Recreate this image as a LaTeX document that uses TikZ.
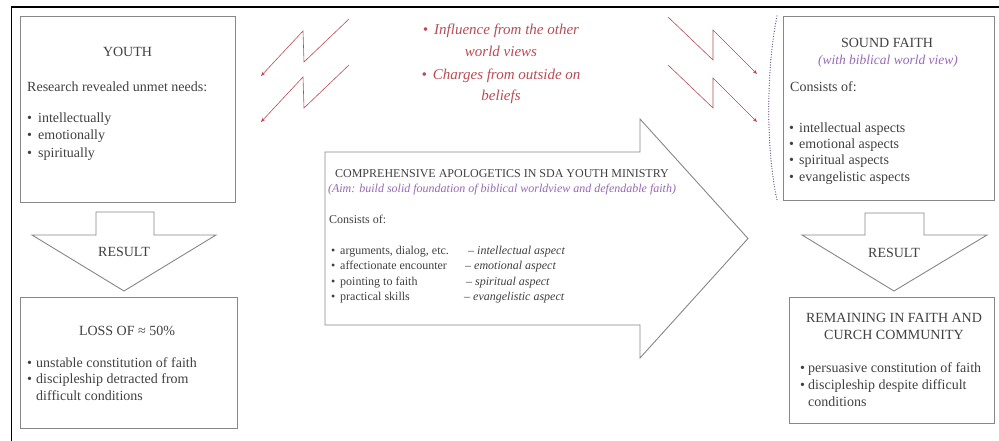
\documentclass[tikz,border=0pt]{standalone}
\usepackage{fontspec}
\setmainfont{Liberation Serif}
\usetikzlibrary{arrows.meta}
\definecolor{txt}{RGB}{64,64,64}
\definecolor{boxline}{RGB}{135,135,135}
\definecolor{redc}{RGB}{185,75,85}
\definecolor{purp}{RGB}{150,105,180}
\definecolor{dotc}{RGB}{105,75,140}
\begin{document}
\begin{tikzpicture}[x=1pt,y=-1pt,
  box/.style={draw=boxline, line width=0.9pt, inner sep=0pt, anchor=north west},
  blockarrow/.style={draw=boxline, line width=0.9pt, fill=white},
  ln/.style={anchor=base west, inner sep=0pt, text=txt, font=\fontsize{14}{16}\selectfont},
  lnc/.style={anchor=base, inner sep=0pt, text=txt, font=\fontsize{14}{16}\selectfont},
  sm/.style={anchor=base west, inner sep=0pt, text=txt, font=\fontsize{12}{14}\selectfont},
  smc/.style={anchor=base, inner sep=0pt, text=txt, font=\fontsize{12}{14}\selectfont},
  redtxt/.style={anchor=base, inner sep=0pt, text=redc, font=\fontsize{15}{17}\selectfont\itshape},
  zig/.style={draw=redc, line width=0.6pt, -{Stealth[length=4.5pt,width=3.5pt]}},
]
\useasboundingbox (0,0) rectangle (999,441);
% outer frame
\draw[line width=1.6pt] (11.5,441) -- (11.5,7) -- (999,7);

% ---- YOUTH box
\node[box, minimum width=215pt, minimum height=186pt] (youth) at (20,16) {};
\node[lnc] (youthT) at (127.5,57) {YOUTH};
\node[ln] (youthR) at (27,91.5) {Research revealed unmet needs:};
\node[ln] (youthB1) at (27,122.5) {\makebox[11pt][l]{•}intellectually};
\node[ln] (youthB2) at (27,139.5) {\makebox[11pt][l]{•}emotionally};
\node[ln] (youthB3) at (27,157.5) {\makebox[11pt][l]{•}spiritually};

% ---- left down arrow
\draw[blockarrow] (96,212) -- (154,212) -- (154,235) -- (216,235) -- (124,291)
  -- (32,235) -- (96,235) -- cycle;
\node[lnc] (resL) at (124,256) {RESULT};

% ---- LOSS box
\node[box, minimum width=217pt, minimum height=131pt] (loss) at (20,297) {};
\node[lnc] (lossT) at (127,335) {LOSS OF ≈ 50\%};
\node[ln] (lossB1) at (27,367.5) {\makebox[9pt][l]{•}unstable constitution of faith};
\node[ln] (lossB2) at (27,383.5) {\makebox[9pt][l]{•}discipleship detracted from};
\node[ln] (lossB3) at (36,400.5) {difficult conditions};

% ---- red zigzag arrows (left)
\draw[zig] (349,19) -- (304,62) -- (303,31) -- (261,76);
\draw[zig] (349,65) -- (304,108) -- (303,77) -- (261,122);
% ---- red zigzag arrows (right)
\draw[zig] (668,17) -- (713,60) -- (713,30) -- (757,74);
\draw[zig] (668,65) -- (713,108) -- (713,78) -- (757,122);

% ---- red text
\node[redtxt] (red1) at (501,35) {•\hspace{6pt}Influence from the other};
\node[redtxt] (red2) at (501,57) {world views};
\node[redtxt] (red3) at (501,80) {•\hspace{6pt}Charges from outside on};
\node[redtxt] (red4) at (501,101) {beliefs};

% ---- central block arrow
\draw[blockarrow] (325,152) -- (640,152) -- (640,119) -- (748,238.5) -- (640,358)
  -- (640,325) -- (325,325) -- cycle;
\node[smc] (cTitle) at (502,178) {COMPREHENSIVE APOLOGETICS IN SDA YOUTH MINISTRY};
\node[smc, text=purp, font=\fontsize{12}{14}\selectfont\itshape] (cAim) at (502,193)
  {(Aim: build solid foundation of biblical worldview and defendable faith)};
\node[sm] (cCons) at (329,223) {Consists of:};
\node[sm] (cB1) at (331,254) {\makebox[9pt][l]{•}arguments, dialog, etc.};
\node[sm] (cB2) at (331,269) {\makebox[9pt][l]{•}affectionate encounter};
\node[sm] (cB3) at (331,285) {\makebox[9pt][l]{•}pointing to faith};
\node[sm] (cB4) at (331,300) {\makebox[9pt][l]{•}practical skills};
\node[sm] (cD1) at (468,254) {– \textit{intellectual aspect}};
\node[sm] (cD2) at (465,269) {– \textit{emotional aspect}};
\node[sm] (cD3) at (466,285) {– \textit{spiritual aspect}};
\node[sm] (cD4) at (464,300) {– \textit{evangelistic aspect}};

% ---- dotted purple arc
\draw[dotc, line width=1.3pt, line cap=round, dash pattern=on 0pt off 2.6pt]
  (777,16) .. controls (766,70) and (766,150) .. (777,200);

% ---- SOUND FAITH box
\node[box, minimum width=211pt, minimum height=184pt] (sound) at (783,16) {};
\node[lnc] (soundT) at (887,48) {SOUND FAITH};
\node[lnc, text=purp, font=\fontsize{13.5}{16}\selectfont\itshape] (soundS) at (888,65)
  {(with biblical world view)};
\node[ln] (soundC) at (790,92) {Consists of:};
\node[ln] (soundB1) at (789,132.5) {\makebox[10pt][l]{•}intellectual aspects};
\node[ln] (soundB2) at (789,148.5) {\makebox[10pt][l]{•}emotional aspects};
\node[ln] (soundB3) at (789,164.5) {\makebox[10pt][l]{•}spiritual aspects};
\node[ln] (soundB4) at (789,181.5) {\makebox[10pt][l]{•}evangelistic aspects};

% ---- right down arrow
\draw[blockarrow] (865,213) -- (924,213) -- (924,235) -- (987,235) -- (894,291)
  -- (802,235) -- (865,235) -- cycle;
\node[lnc] (resR) at (894,257.5) {RESULT};

% ---- REMAINING box
\node[box, minimum width=205pt, minimum height=126pt] (remain) at (789,297) {};
\node[lnc] (remT1) at (894,322.5) {REMAINING IN FAITH AND};
\node[lnc] (remT2) at (894,339.5) {CURCH COMMUNITY};
\node[ln] (remB1) at (800,372.5) {\makebox[8pt][l]{•}persuasive constitution of faith};
\node[ln] (remB2) at (800,389.5) {\makebox[8pt][l]{•}discipleship despite difficult};
\node[ln] (remB3) at (808,406.5) {conditions};
\end{tikzpicture}
\end{document}
